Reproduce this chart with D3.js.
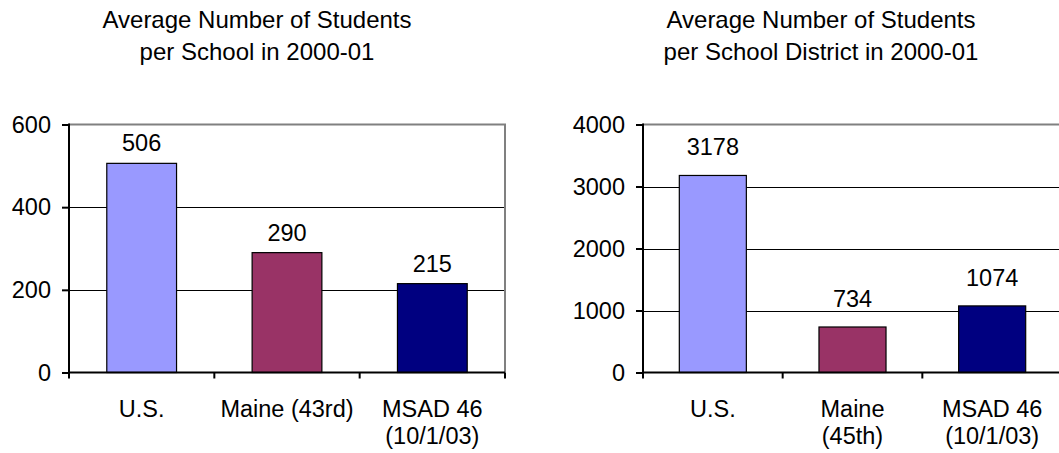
<!DOCTYPE html>
<html>
<head>
<meta charset="utf-8">
<script src="https://cdn.jsdelivr.net/npm/d3@7"></script>
<style>
  html, body { margin: 0; padding: 0; background: #fff; }
  svg { display: block; }
  text { font-family: "Liberation Sans", Arial, sans-serif; fill: #000; }
</style>
</head>
<body>
<svg id="chart" width="1059" height="453"></svg>
<script>
// Average enrolment, 2000-01
const schoolCategories = ["U.S.", "Maine (43rd)", "MSAD 46\n(10/1/03)"];
const schoolValues = [506, 290, 215];
const schoolTicks = [0, 200, 400, 600];
const schoolTitle = ["Average Number of Students", "per School in 2000-01"];

const districtCategories = ["U.S.", "Maine\n(45th)", "MSAD 46\n(10/1/03)"];
const districtValues = [3178, 734, 1074];
const districtTicks = [0, 1000, 2000, 3000, 4000];
const districtTitle = ["Average Number of Students", "per School District in 2000-01"];

const barColors = ["#9999FF", "#993366", "#000080"];

const svg = d3.select("#chart");

function drawPanel(opts) {
  const { categories, values, ticks, title, left, right, titleX, labelGap } = opts;
  const top = 124.5, bottom = 372.5;

  const x = d3.scaleBand()
    .domain(categories)
    .range([left, right])
    .paddingInner(0.52)
    .paddingOuter(0.26);

  const y = d3.scaleLinear()
    .domain([0, d3.max(ticks)])
    .range([bottom, top]);

  const g = svg.append("g");

  // title
  const t = g.append("text")
    .attr("x", titleX)
    .attr("y", 28)
    .attr("text-anchor", "middle")
    .style("font-size", "24px");
  title.forEach((line, i) => {
    t.append("tspan").attr("x", titleX).attr("dy", i === 0 ? 0 : 32).text(line);
  });

  // horizontal gridlines
  g.append("g")
    .selectAll("line")
    .data(ticks.filter(v => v > 0 && v < d3.max(ticks)))
    .join("line")
    .attr("x1", left).attr("x2", right)
    .attr("y1", d => Math.round(y(d)) + 0.5).attr("y2", d => Math.round(y(d)) + 0.5)
    .attr("stroke", "#000").attr("stroke-width", 1)
    .attr("shape-rendering", "crispEdges");

  // plot-area border (top and right)
  g.append("path")
    .attr("d", `M${left},${y(d3.max(ticks))}H${right}V${bottom}`)
    .attr("fill", "none")
    .attr("stroke", "#808080")
    .attr("stroke-width", 2);

  // bars
  g.append("g")
    .selectAll("rect")
    .data(values)
    .join("rect")
    .attr("x", (d, i) => x(categories[i]))
    .attr("width", x.bandwidth())
    .attr("y", d => y(d))
    .attr("height", d => bottom - y(d))
    .attr("fill", (d, i) => barColors[i])
    .attr("stroke", "#000")
    .attr("stroke-width", 1.2);

  // value labels
  g.append("g")
    .selectAll("text")
    .data(values)
    .join("text")
    .attr("x", (d, i) => x(categories[i]) + x.bandwidth() / 2)
    .attr("y", d => y(d) - labelGap)
    .attr("text-anchor", "middle")
    .style("font-size", "23.5px")
    .text(d => d);

  // y axis
  const yAxis = g.append("g")
    .attr("transform", `translate(${left},0)`)
    .call(d3.axisLeft(y).tickValues(ticks).tickSize(7).tickPadding(11).tickFormat(d3.format("d")));
  yAxis.select(".domain").attr("stroke", "#000").attr("stroke-width", 2)
    .attr("d", `M0,${top - 1}V${bottom + 1}`);
  yAxis.selectAll(".tick line").attr("stroke", "#000").attr("stroke-width", 2);
  yAxis.selectAll(".tick text")
    .attr("font-family", null).attr("font-size", null)
    .style("font-size", "23.5px").style("fill", "#000");

  // x axis line with boundary ticks
  const step = x.step();
  const bounds = d3.range(categories.length + 1).map(i => left + i * step);
  g.append("line")
    .attr("x1", left - 1).attr("x2", right)
    .attr("y1", bottom).attr("y2", bottom)
    .attr("stroke", "#000").attr("stroke-width", 2);
  g.append("g")
    .selectAll("line")
    .data(bounds)
    .join("line")
    .attr("x1", d => d).attr("x2", d => d)
    .attr("y1", bottom).attr("y2", bottom + 6)
    .attr("stroke", "#000").attr("stroke-width", 2);

  // category labels
  const lbl = g.append("g")
    .selectAll("text")
    .data(categories)
    .join("text")
    .attr("text-anchor", "middle")
    .attr("y", 416.5)
    .style("font-size", "23.5px");
  lbl.each(function (c) {
    const cx = x(c) + x.bandwidth() / 2;
    c.split("\n").forEach((line, i) => {
      d3.select(this).append("tspan")
        .attr("x", cx)
        .attr("dy", i === 0 ? 0 : 27)
        .text(line);
    });
  });
}

drawPanel({
  categories: schoolCategories, values: schoolValues, ticks: schoolTicks,
  title: schoolTitle, left: 69, right: 505, titleX: 257, labelGap: 12
});

drawPanel({
  categories: districtCategories, values: districtValues, ticks: districtTicks,
  title: districtTitle, left: 643, right: 1062, titleX: 821, labelGap: 20
});
</script>
</body>
</html>
